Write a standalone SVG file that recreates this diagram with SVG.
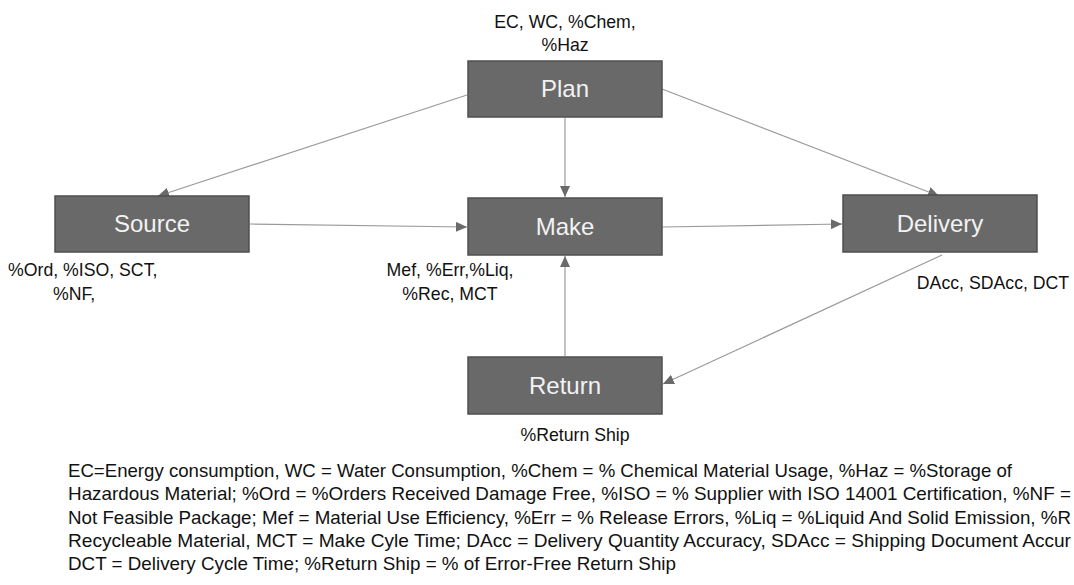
<svg xmlns="http://www.w3.org/2000/svg" width="1074" height="585" viewBox="0 0 1074 585">
<style>
.box{fill:#696969;stroke:#4f4f4f;stroke-width:1.5}
.lbl{font-family:"Liberation Sans",Arial,sans-serif;font-size:24px;fill:#f2f2f2;text-anchor:middle}
.met{font-family:"Liberation Sans",Arial,sans-serif;font-size:17.7px;fill:#111}
.leg{font-family:"Liberation Sans",Arial,sans-serif;font-size:18.6px;fill:#111}
.con{stroke:#9a9a9a;stroke-width:1.2;fill:none;marker-end:url(#arr)}
</style>
<defs>
<marker id="arr" markerUnits="userSpaceOnUse" markerWidth="12" markerHeight="10" refX="11" refY="5" orient="auto">
<path d="M0,0 L11,5 L0,10 z" fill="#6a6a6a"/>
</marker>
</defs>
<rect width="1074" height="585" fill="#fff"/>
<g id="connectors">
<line class="con" x1="467" y1="95" x2="158" y2="196"/>
<line class="con" x1="565" y1="118" x2="565" y2="197"/>
<line class="con" x1="662" y1="89" x2="939" y2="196"/>
<line class="con" x1="250" y1="224" x2="467" y2="227"/>
<line class="con" x1="662" y1="227" x2="842" y2="224"/>
<line class="con" x1="942" y1="255" x2="663" y2="384"/>
<line class="con" x1="565" y1="356" x2="565" y2="256"/>
</g>
<g id="plan">
<rect class="box" x="468" y="61" width="194" height="56"/>
<text class="lbl" x="565" y="97">Plan</text>
<text class="met" x="565" y="28" text-anchor="middle">EC, WC, %Chem,</text>
<text class="met" x="565" y="51" text-anchor="middle">%Haz</text>
</g>
<g id="source">
<rect class="box" x="55" y="196" width="194" height="56"/>
<text class="lbl" x="152" y="232">Source</text>
<text class="met" x="8" y="276">%Ord, %ISO, SCT,</text>
<text class="met" x="53" y="300">%NF,</text>
</g>
<g id="make">
<rect class="box" x="468" y="198" width="194" height="57"/>
<text class="lbl" x="565" y="235">Make</text>
<text class="met" x="450" y="276" text-anchor="middle">Mef, %Err,%Liq,</text>
<text class="met" x="450" y="300" text-anchor="middle">%Rec, MCT</text>
</g>
<g id="delivery">
<rect class="box" x="843" y="195" width="194" height="57"/>
<text class="lbl" x="940" y="232">Delivery</text>
<text class="met" x="993" y="289" text-anchor="middle">DAcc, SDAcc, DCT</text>
</g>
<g id="return">
<rect class="box" x="468" y="357" width="194" height="57"/>
<text class="lbl" x="565" y="394">Return</text>
<text class="met" x="575" y="441" text-anchor="middle">%Return Ship</text>
</g>
<g id="legend">
<text class="leg" x="68" y="477" textLength="944" lengthAdjust="spacingAndGlyphs">EC=Energy consumption, WC = Water Consumption, %Chem = % Chemical Material Usage, %Haz = %Storage of</text>
<text class="leg" x="68" y="500" textLength="1003" lengthAdjust="spacingAndGlyphs">Hazardous Material; %Ord = %Orders Received  Damage Free, %ISO = % Supplier with ISO 14001 Certification, %NF =</text>
<text class="leg" x="68" y="524" textLength="1003" lengthAdjust="spacingAndGlyphs">Not Feasible Package; Mef = Material Use Efficiency, %Err = % Release Errors, %Liq = %Liquid And Solid Emission, %R</text>
<text class="leg" x="68" y="547" textLength="1003" lengthAdjust="spacingAndGlyphs">Recycleable Material, MCT = Make Cyle Time; DAcc = Delivery Quantity Accuracy, SDAcc = Shipping Document Accur</text>
<text class="leg" x="68" y="570" textLength="608" lengthAdjust="spacingAndGlyphs">DCT = Delivery Cycle Time; %Return Ship = % of Error-Free Return Ship</text>
</g>
</svg>
